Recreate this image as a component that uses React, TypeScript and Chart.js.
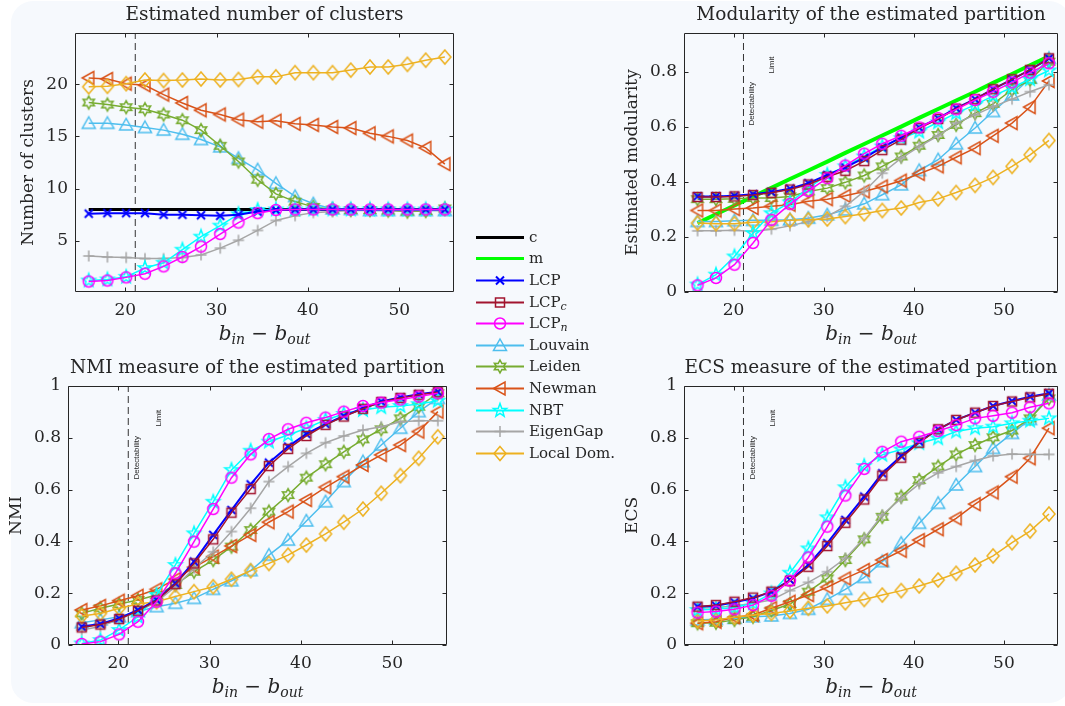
import React, { useEffect, useRef } from "react";
import { Chart, registerables } from "chart.js";
Chart.register(...registerables);

// ---------------- DATA ----------------
const binMinusBout = [16, 18.05, 20.1, 22.16, 24.2, 26.26, 28.3, 30.4, 32.4, 34.5, 36.5, 38.6, 40.6, 42.7, 44.7, 46.8, 48.8, 50.9, 52.9, 55];
const xTickValues = [20, 30, 40, 50];
const detectabilityLimit = 21.1;

// Panel 1: estimated number of clusters
const clustersTicks = [5, 10, 15, 20];
const clustersC = [8, 8, 8, 8, 8, 8, 8, 8, 8, 8, 8, 8, 8, 8, 8, 8, 8, 8, 8, 8];
const clustersLCP = [7.6, 7.65, 7.65, 7.65, 7.5, 7.5, 7.45, 7.4, 7.5, 7.8, 7.95, 8, 8, 8, 8, 8, 8, 8, 8, 8];
const clustersLCPn = [1.1, 1.2, 1.5, 1.85, 2.55, 3.45, 4.45, 5.65, 6.75, 7.65, 7.95, 8, 8, 8, 8, 8, 8, 8, 8, 8];
const clustersLouvain = [16.25, 16.25, 16.1, 15.85, 15.6, 15.2, 14.7, 14.0, 12.9, 11.8, 10.5, 9.25, 8.55, 8.05, 8.0, 7.9, 7.9, 7.9, 7.9, 7.9];
const clustersLeiden = [18.25, 18.05, 17.8, 17.6, 17.1, 16.55, 15.6, 14.1, 12.6, 10.85, 9.5, 8.75, 8.25, 8.0, 7.95, 7.95, 7.9, 7.8, 7.85, 8.1];
const clustersNewman = [20.6, 20.5, 20.05, 19.9, 19.0, 18.2, 17.5, 17.1, 16.6, 16.4, 16.5, 16.2, 16.1, 15.9, 15.8, 15.3, 15.0, 14.6, 13.9, 12.35];
const clustersNBT = [1.2, 1.3, 1.55, 2.4, 2.9, 4.15, 5.4, 6.45, 7.55, 7.95, 8, 8, 8, 8, 8, 8, 8, 8, 8, 8];
const clustersEigenGap = [3.55, 3.45, 3.4, 3.3, 3.3, 3.4, 3.65, 4.3, 5.05, 6.0, 6.95, 7.4, 7.7, 7.8, 7.9, 7.9, 7.9, 7.9, 7.9, 7.9];
const clustersLocalDom = [19.75, 19.8, 20.05, 20.4, 20.35, 20.4, 20.5, 20.4, 20.45, 20.7, 20.7, 21.1, 21.1, 21.1, 21.35, 21.65, 21.65, 21.9, 22.3, 22.6];

// Panel 2: modularity
const modTicks = [0, 0.2, 0.4, 0.6, 0.8];
const modM = [0.25, 0.282, 0.314, 0.346, 0.378, 0.41, 0.441, 0.473, 0.505, 0.537, 0.568, 0.6, 0.632, 0.664, 0.695, 0.727, 0.759, 0.791, 0.823, 0.855];
const modLCP = [0.347, 0.347, 0.349, 0.355, 0.363, 0.375, 0.395, 0.425, 0.452, 0.487, 0.525, 0.561, 0.597, 0.63, 0.667, 0.7, 0.736, 0.772, 0.806, 0.848];
const modLCPc = [0.345, 0.345, 0.347, 0.352, 0.36, 0.372, 0.39, 0.418, 0.44, 0.475, 0.515, 0.553, 0.595, 0.628, 0.665, 0.7, 0.736, 0.772, 0.806, 0.848];
const modLCPn = [0.024, 0.051, 0.099, 0.178, 0.262, 0.319, 0.367, 0.413, 0.459, 0.502, 0.538, 0.567, 0.597, 0.631, 0.663, 0.697, 0.727, 0.761, 0.796, 0.83];
const modLouvain = [0.256, 0.256, 0.259, 0.26, 0.26, 0.262, 0.268, 0.28, 0.298, 0.32, 0.353, 0.389, 0.441, 0.48, 0.538, 0.595, 0.655, 0.715, 0.776, 0.848];
const modLeiden = [0.337, 0.337, 0.338, 0.341, 0.341, 0.347, 0.365, 0.377, 0.398, 0.423, 0.456, 0.492, 0.531, 0.57, 0.607, 0.649, 0.683, 0.734, 0.77, 0.836];
const modNewman = [0.296, 0.296, 0.301, 0.305, 0.311, 0.317, 0.329, 0.337, 0.349, 0.365, 0.383, 0.404, 0.429, 0.456, 0.489, 0.522, 0.567, 0.613, 0.671, 0.766];
const modNBT = [0.027, 0.063, 0.129, 0.214, 0.286, 0.325, 0.377, 0.425, 0.456, 0.492, 0.528, 0.558, 0.582, 0.616, 0.649, 0.679, 0.712, 0.742, 0.772, 0.804];
const modEigenGap = [0.222, 0.222, 0.224, 0.22, 0.228, 0.24, 0.256, 0.274, 0.311, 0.365, 0.431, 0.486, 0.528, 0.567, 0.613, 0.643, 0.673, 0.7, 0.727, 0.752];
const modLocalDom = [0.25, 0.248, 0.248, 0.253, 0.255, 0.26, 0.262, 0.265, 0.274, 0.284, 0.296, 0.305, 0.325, 0.338, 0.361, 0.387, 0.416, 0.456, 0.498, 0.55];

// Panel 3: NMI
const unitTicks = [0, 0.2, 0.4, 0.6, 0.8, 1];
const nmiLCP = [0.071, 0.081, 0.103, 0.135, 0.174, 0.238, 0.322, 0.425, 0.521, 0.62, 0.704, 0.766, 0.815, 0.853, 0.884, 0.914, 0.94, 0.956, 0.968, 0.978];
const nmiLCPc = [0.068, 0.079, 0.1, 0.132, 0.172, 0.235, 0.315, 0.408, 0.511, 0.602, 0.691, 0.757, 0.807, 0.85, 0.882, 0.912, 0.938, 0.954, 0.966, 0.976];
const nmiLCPn = [0.004, 0.013, 0.041, 0.09, 0.167, 0.277, 0.399, 0.525, 0.646, 0.736, 0.795, 0.833, 0.858, 0.878, 0.901, 0.923, 0.936, 0.948, 0.959, 0.972];
const nmiLouvain = [0.086, 0.097, 0.109, 0.129, 0.148, 0.161, 0.18, 0.215, 0.248, 0.287, 0.347, 0.405, 0.479, 0.553, 0.631, 0.708, 0.772, 0.837, 0.901, 0.952];
const nmiLeiden = [0.122, 0.142, 0.158, 0.174, 0.193, 0.232, 0.283, 0.328, 0.38, 0.444, 0.515, 0.579, 0.646, 0.698, 0.746, 0.794, 0.833, 0.875, 0.92, 0.972];
const nmiNewman = [0.135, 0.151, 0.171, 0.19, 0.215, 0.254, 0.3, 0.341, 0.382, 0.425, 0.474, 0.515, 0.56, 0.609, 0.65, 0.695, 0.734, 0.772, 0.824, 0.901];
const nmiNBT = [0.006, 0.019, 0.058, 0.109, 0.193, 0.309, 0.431, 0.553, 0.676, 0.75, 0.785, 0.811, 0.837, 0.869, 0.892, 0.907, 0.918, 0.923, 0.93, 0.943];
const nmiEigenGap = [0.058, 0.071, 0.099, 0.129, 0.167, 0.225, 0.296, 0.36, 0.438, 0.528, 0.631, 0.689, 0.74, 0.781, 0.807, 0.83, 0.843, 0.862, 0.866, 0.866];
const nmiLocalDom = [0.112, 0.122, 0.142, 0.158, 0.167, 0.187, 0.206, 0.225, 0.254, 0.287, 0.315, 0.347, 0.386, 0.429, 0.474, 0.525, 0.586, 0.654, 0.721, 0.804];

// Panel 4: ECS
const ecsLCP = [0.148, 0.152, 0.165, 0.18, 0.206, 0.251, 0.309, 0.393, 0.483, 0.573, 0.663, 0.73, 0.785, 0.833, 0.869, 0.897, 0.923, 0.942, 0.959, 0.972];
const ecsLCPc = [0.148, 0.154, 0.167, 0.183, 0.206, 0.248, 0.302, 0.382, 0.472, 0.562, 0.654, 0.723, 0.781, 0.833, 0.869, 0.897, 0.923, 0.94, 0.956, 0.97];
const ecsLCPn = [0.125, 0.129, 0.138, 0.154, 0.19, 0.248, 0.338, 0.457, 0.577, 0.68, 0.746, 0.785, 0.804, 0.826, 0.849, 0.875, 0.885, 0.897, 0.918, 0.933];
const ecsLouvain = [0.097, 0.099, 0.103, 0.109, 0.112, 0.122, 0.138, 0.176, 0.215, 0.261, 0.322, 0.393, 0.47, 0.547, 0.618, 0.689, 0.759, 0.817, 0.871, 0.965];
const ecsLeiden = [0.084, 0.086, 0.097, 0.109, 0.133, 0.158, 0.206, 0.257, 0.328, 0.408, 0.495, 0.573, 0.637, 0.689, 0.736, 0.772, 0.802, 0.828, 0.875, 0.952];
const ecsNewman = [0.084, 0.09, 0.107, 0.116, 0.142, 0.167, 0.193, 0.223, 0.257, 0.29, 0.328, 0.364, 0.405, 0.447, 0.489, 0.544, 0.589, 0.65, 0.721, 0.837];
const ecsNBT = [0.135, 0.138, 0.145, 0.161, 0.199, 0.279, 0.373, 0.493, 0.609, 0.691, 0.734, 0.755, 0.779, 0.798, 0.824, 0.837, 0.843, 0.856, 0.866, 0.875];
const ecsEigenGap = [0.142, 0.145, 0.151, 0.161, 0.174, 0.21, 0.242, 0.283, 0.335, 0.412, 0.502, 0.566, 0.622, 0.665, 0.689, 0.712, 0.73, 0.737, 0.736, 0.736];
const ecsLocalDom = [0.093, 0.097, 0.107, 0.116, 0.122, 0.131, 0.142, 0.151, 0.163, 0.176, 0.193, 0.21, 0.228, 0.251, 0.277, 0.309, 0.344, 0.395, 0.44, 0.506];

// ---------------- STYLES ----------------
const FONT = '"DejaVu Serif", serif';
const TEXT_COLOR = "#262626";
const AXIS_COLOR = "#262626";

type MarkerKind = "x" | "plus" | "square" | "circle" | "triUp" | "triLeft" | "diamond" | "pentagram" | "hexagram" | null;
const seriesStyle: Record<string, { color: string; width: number; marker: MarkerKind; markerWidth: number }> = {
  c: { color: "#000000", width: 3, marker: null, markerWidth: 1.5 },
  m: { color: "#00ff00", width: 4, marker: null, markerWidth: 1.5 },
  LCP: { color: "#0000ff", width: 2, marker: "x", markerWidth: 2 },
  LCPc: { color: "#a2142f", width: 1.5, marker: "square", markerWidth: 1.5 },
  LCPn: { color: "#ff00ff", width: 1.5, marker: "circle", markerWidth: 1.5 },
  Louvain: { color: "#4dbeee", width: 1.5, marker: "triUp", markerWidth: 1.5 },
  Leiden: { color: "#77ac30", width: 1.5, marker: "hexagram", markerWidth: 1.5 },
  Newman: { color: "#d95319", width: 1.5, marker: "triLeft", markerWidth: 1.5 },
  NBT: { color: "#00ffff", width: 1.5, marker: "pentagram", markerWidth: 1.5 },
  EigenGap: { color: "#a6a6a6", width: 1.5, marker: "plus", markerWidth: 1.5 },
  LocalDom: { color: "#edb120", width: 1.5, marker: "diamond", markerWidth: 1.5 },
};
const legendOrder = ["c", "m", "LCP", "LCPc", "LCPn", "Louvain", "Leiden", "Newman", "NBT", "EigenGap", "LocalDom"];
// bottom -> top
const drawOrder = ["c", "m", "Louvain", "Leiden", "Newman", "EigenGap", "LocalDom", "NBT", "LCP", "LCPc", "LCPn"];

function traceMarker(ctx: CanvasRenderingContext2D, kind: MarkerKind, cx: number, cy: number) {
  ctx.beginPath();
  const star = (n: number, ro: number, ri: number) => {
    for (let k = 0; k < 2 * n; k++) {
      const a = -Math.PI / 2 + (k * Math.PI) / n;
      const r = k % 2 === 0 ? ro : ri;
      const px = cx + r * Math.cos(a);
      const py = cy + r * Math.sin(a);
      if (k === 0) ctx.moveTo(px, py);
      else ctx.lineTo(px, py);
    }
    ctx.closePath();
  };
  switch (kind) {
    case "x": {
      const r = 4;
      ctx.moveTo(cx - r, cy - r); ctx.lineTo(cx + r, cy + r);
      ctx.moveTo(cx + r, cy - r); ctx.lineTo(cx - r, cy + r);
      break;
    }
    case "plus": {
      const r = 5.5;
      ctx.moveTo(cx - r, cy); ctx.lineTo(cx + r, cy);
      ctx.moveTo(cx, cy - r); ctx.lineTo(cx, cy + r);
      break;
    }
    case "square": {
      const r = 4.5;
      ctx.rect(cx - r, cy - r, 2 * r, 2 * r);
      break;
    }
    case "circle":
      ctx.arc(cx, cy, 5.5, 0, Math.PI * 2);
      break;
    case "triUp":
      ctx.moveTo(cx, cy - 6.5); ctx.lineTo(cx + 6.5, cy + 5); ctx.lineTo(cx - 6.5, cy + 5); ctx.closePath();
      break;
    case "triLeft":
      ctx.moveTo(cx - 6.5, cy); ctx.lineTo(cx + 5, cy - 6.5); ctx.lineTo(cx + 5, cy + 6.5); ctx.closePath();
      break;
    case "diamond":
      ctx.moveTo(cx, cy - 7); ctx.lineTo(cx + 6, cy); ctx.lineTo(cx, cy + 7); ctx.lineTo(cx - 6, cy); ctx.closePath();
      break;
    case "pentagram":
      star(5, 7, 2.9);
      break;
    case "hexagram":
      star(6, 6.5, 3.6);
      break;
    default:
      break;
  }
}

function drawMarker(ctx: CanvasRenderingContext2D, key: string, cx: number, cy: number) {
  const st = seriesStyle[key];
  if (!st.marker) return;
  ctx.save();
  ctx.strokeStyle = st.color;
  ctx.lineWidth = st.markerWidth;
  ctx.lineJoin = "miter";
  traceMarker(ctx, st.marker, cx, cy);
  ctx.stroke();
  ctx.restore();
}

const markerCache: Record<string, HTMLCanvasElement> = {};
function markerImage(key: string): HTMLCanvasElement {
  if (markerCache[key]) return markerCache[key];
  const c = document.createElement("canvas");
  c.width = 20;
  c.height = 20;
  const ctx = c.getContext("2d")!;
  drawMarker(ctx, key, 10, 10);
  markerCache[key] = c;
  return c;
}

// ---------------- PANELS ----------------
type Panel = {
  left: number; top: number; width: number; height: number;
  plotLeft: number; padRight: number;
  title: string; yLabel: string; yLabelOffset: number;
  yMin: number; yMax: number; yTicks: number[];
  series: Record<string, number[]>;
  notes: { text: string; x: number; y: number }[];
};

const panels: Panel[] = [
  {
    left: 0, top: 0, width: 470, height: 353, plotLeft: 75, padRight: 16,
    title: "Estimated number of clusters", yLabel: "Number of clusters", yLabelOffset: 46,
    yMin: 0.1, yMax: 24.9, yTicks: clustersTicks,
    series: { c: clustersC, LCP: clustersLCP, LCPn: clustersLCPn, Louvain: clustersLouvain, Leiden: clustersLeiden, Newman: clustersNewman, NBT: clustersNBT, EigenGap: clustersEigenGap, LocalDom: clustersLocalDom },
    notes: [],
  },
  {
    left: 590, top: 0, width: 475, height: 353, plotLeft: 94, padRight: 2,
    title: "Modularity of the estimated partition", yLabel: "Estimated modularity", yLabelOffset: 51,
    yMin: 0, yMax: 0.94, yTicks: modTicks,
    series: { m: modM, LCP: modLCP, LCPc: modLCPc, LCPn: modLCPn, Louvain: modLouvain, Leiden: modLeiden, Newman: modNewman, NBT: modNBT, EigenGap: modEigenGap, LocalDom: modLocalDom },
    notes: [{ text: "Detectability", x: 22.05, y: 0.683 }, { text: "Limit", x: 24.27, y: 0.824 }],
  },
  {
    left: 0, top: 353, width: 470, height: 353, plotLeft: 68, padRight: 23,
    title: "NMI measure of the estimated partition", yLabel: "NMI", yLabelOffset: 51,
    yMin: 0, yMax: 1, yTicks: unitTicks,
    series: { LCP: nmiLCP, LCPc: nmiLCPc, LCPn: nmiLCPn, Louvain: nmiLouvain, Leiden: nmiLeiden, Newman: nmiNewman, NBT: nmiNBT, EigenGap: nmiEigenGap, LocalDom: nmiLocalDom },
    notes: [{ text: "Detectability", x: 22.07, y: 0.723 }, { text: "Limit", x: 24.4, y: 0.876 }],
  },
  {
    left: 590, top: 353, width: 475, height: 353, plotLeft: 94, padRight: 2,
    title: "ECS measure of the estimated partition", yLabel: "ECS", yLabelOffset: 51,
    yMin: 0, yMax: 1, yTicks: unitTicks,
    series: { LCP: ecsLCP, LCPc: ecsLCPc, LCPn: ecsLCPn, Louvain: ecsLouvain, Leiden: ecsLeiden, Newman: ecsNewman, NBT: ecsNBT, EigenGap: ecsEigenGap, LocalDom: ecsLocalDom },
    notes: [{ text: "Detectability", x: 22.1, y: 0.723 }, { text: "Limit", x: 24.4, y: 0.876 }],
  },
];

function drawXLabel(ctx: CanvasRenderingContext2D, cx: number, baseline: number) {
  const pieces = [
    { t: "b", f: `italic 20px ${FONT}`, dy: 0 },
    { t: "in", f: `italic 14px ${FONT}`, dy: 4 },
    { t: " \u2212 ", f: `20px ${FONT}`, dy: 0 },
    { t: "b", f: `italic 20px ${FONT}`, dy: 0 },
    { t: "out", f: `italic 14px ${FONT}`, dy: 4 },
  ];
  let total = 0;
  const widths = pieces.map((p) => {
    ctx.font = p.f;
    const w = ctx.measureText(p.t).width;
    total += w;
    return w;
  });
  let x = cx - total / 2;
  ctx.textAlign = "left";
  ctx.textBaseline = "alphabetic";
  pieces.forEach((p, i) => {
    ctx.font = p.f;
    ctx.fillText(p.t, x, baseline + p.dy);
    x += widths[i];
  });
}

const decorPlugin = {
  id: "decor",
  afterDraw(chart: any, _args: any, opts: any) {
    const { ctx, chartArea: a, scales } = chart;
    const xs = scales.x;
    const ys = scales.y;
    ctx.save();
    ctx.strokeStyle = AXIS_COLOR;
    ctx.lineWidth = 1;
    const L = Math.round(a.left) + 0.5, R = Math.round(a.right) - 0.5, T = Math.round(a.top) + 0.5, B = Math.round(a.bottom) - 0.5;
    ctx.beginPath();
    ctx.rect(L, T, R - L, B - T);
    const tl = 4;
    for (const v of xTickValues) {
      const px = Math.round(xs.getPixelForValue(v)) + 0.5;
      ctx.moveTo(px, B); ctx.lineTo(px, B - tl);
      ctx.moveTo(px, T); ctx.lineTo(px, T + tl);
    }
    for (const v of opts.yTicks as number[]) {
      const py = Math.round(ys.getPixelForValue(v)) + 0.5;
      ctx.moveTo(L, py); ctx.lineTo(L + tl, py);
      ctx.moveTo(R, py); ctx.lineTo(R - tl, py);
    }
    ctx.stroke();

    ctx.fillStyle = TEXT_COLOR;
    // x label
    drawXLabel(ctx, (a.left + a.right) / 2, a.bottom + 48);
    // y label
    ctx.save();
    ctx.font = `17px ${FONT}`;
    ctx.textAlign = "center";
    ctx.textBaseline = "middle";
    ctx.translate(a.left - opts.yLabelOffset, (a.top + a.bottom) / 2);
    ctx.rotate(-Math.PI / 2);
    ctx.fillText(opts.yLabel, 0, 0);
    ctx.restore();
    // notes
    for (const n of opts.notes as { text: string; x: number; y: number }[]) {
      ctx.save();
      ctx.font = `8px "Liberation Sans", Arial, sans-serif`;
      ctx.textAlign = "center";
      ctx.textBaseline = "middle";
      ctx.translate(xs.getPixelForValue(n.x), ys.getPixelForValue(n.y));
      ctx.rotate(-Math.PI / 2);
      ctx.fillText(n.text, 0, 0);
      ctx.restore();
    }
    ctx.restore();
  },
};

function PanelChart({ panel }: { panel: Panel }) {
  const ref = useRef<HTMLCanvasElement>(null);
  useEffect(() => {
    const canvas = ref.current!;
    const datasets: any[] = [];
    datasets.push({
      label: "detectability",
      data: [
        { x: detectabilityLimit, y: panel.yMin },
        { x: detectabilityLimit, y: panel.yMax },
      ],
      borderColor: "#333333",
      borderWidth: 1,
      borderDash: [7, 4],
      pointRadius: 0,
      order: 100,
    });
    drawOrder.forEach((key, idx) => {
      const ys = panel.series[key];
      if (!ys) return;
      const st = seriesStyle[key];
      datasets.push({
        label: key,
        data: binMinusBout.map((x, i) => ({ x, y: ys[i] })),
        borderColor: st.color,
        borderWidth: st.width,
        pointStyle: st.marker ? markerImage(key) : false,
        pointRadius: st.marker ? 5 : 0,
        pointHoverRadius: st.marker ? 5 : 0,
        pointBackgroundColor: "transparent",
        pointBorderColor: st.color,
        tension: 0,
        fill: false,
        order: 50 - idx,
      });
    });
    const chart = new Chart(canvas, {
      type: "line",
      data: { datasets },
      options: {
        animation: false,
        responsive: false,
        devicePixelRatio: 1,
        events: [],
        layout: { padding: { left: 0, right: panel.padRight, top: 0, bottom: 0 } },
        plugins: {
          legend: { display: false },
          tooltip: { enabled: false },
          title: {
            display: true,
            text: panel.title,
            color: TEXT_COLOR,
            font: { family: FONT, size: 18.5, weight: "normal" },
            padding: { top: 4.5, bottom: 6.3 },
            fullSize: false,
          },
          decor: { yTicks: panel.yTicks, yLabel: panel.yLabel, yLabelOffset: panel.yLabelOffset, notes: panel.notes },
        } as any,
        scales: {
          x: {
            type: "linear",
            min: 14.5,
            max: 56,
            grid: { display: false, drawTicks: false },
            border: { display: false },
            ticks: { color: TEXT_COLOR, font: { family: FONT, size: 17 }, padding: 8, callback: (v: any) => String(v) },
            afterBuildTicks: (s: any) => { s.ticks = xTickValues.map((v) => ({ value: v })); },
            afterFit: (s: any) => { s.height = 61; },
          },
          y: {
            type: "linear",
            min: panel.yMin,
            max: panel.yMax,
            grid: { display: false, drawTicks: false },
            border: { display: false },
            ticks: { color: TEXT_COLOR, font: { family: FONT, size: 17 }, padding: 7, callback: (v: any) => String(v) },
            afterBuildTicks: (s: any) => { s.ticks = panel.yTicks.map((v) => ({ value: v })); },
            afterFit: (s: any) => { s.width = panel.plotLeft; },
          },
        },
      },
      plugins: [decorPlugin],
    });
    return () => chart.destroy();
  }, [panel]);
  return (
    <canvas
      ref={ref}
      width={panel.width}
      height={panel.height}
      style={{ position: "absolute", left: panel.left, top: panel.top, width: panel.width, height: panel.height }}
    />
  );
}

const legendLabels: Record<string, React.ReactNode> = {
  c: "c",
  m: "m",
  LCP: "LCP",
  LCPc: (
    <>
      LCP<sub style={{ fontStyle: "italic", fontSize: 11, verticalAlign: "-3px" }}>c</sub>
    </>
  ),
  LCPn: (
    <>
      LCP<sub style={{ fontStyle: "italic", fontSize: 11, verticalAlign: "-3px" }}>n</sub>
    </>
  ),
  Louvain: "Louvain",
  Leiden: "Leiden",
  Newman: "Newman",
  NBT: "NBT",
  EigenGap: "EigenGap",
  LocalDom: "Local Dom.",
};

const LEG_LEFT = 474;
const LEG_TOP = 226;
const LEG_ROW0 = 10.7;
const LEG_STEP = 21.6;

function Legend() {
  const ref = useRef<HTMLCanvasElement>(null);
  useEffect(() => {
    const ctx = ref.current!.getContext("2d")!;
    ctx.clearRect(0, 0, 56, 240);
    legendOrder.forEach((key, i) => {
      const y = Math.round(LEG_ROW0 + i * LEG_STEP) + 0.5;
      const st = seriesStyle[key];
      ctx.save();
      ctx.strokeStyle = st.color;
      ctx.lineWidth = st.marker ? 2 : 3;
      ctx.beginPath();
      ctx.moveTo(2, y);
      ctx.lineTo(50, y);
      ctx.stroke();
      ctx.restore();
      drawMarker(ctx, key, 26, y);
    });
  }, []);
  return (
    <div style={{ position: "absolute", left: LEG_LEFT, top: LEG_TOP, width: 150, height: 240 }}>
      <canvas ref={ref} width={56} height={240} style={{ position: "absolute", left: 0, top: 0 }} />
      {legendOrder.map((key, i) => (
        <div
          key={key}
          style={{
            position: "absolute",
            left: 55,
            top: LEG_ROW0 + i * LEG_STEP - 11,
            height: 22,
            lineHeight: "22px",
            fontFamily: FONT,
            fontSize: 15,
            color: TEXT_COLOR,
            whiteSpace: "nowrap",
          }}
        >
          {legendLabels[key]}
        </div>
      ))}
    </div>
  );
}

export default function App() {
  return (
    <div style={{ position: "absolute", left: 0, top: 0, width: 1065, height: 706, background: "#ffffff", overflow: "hidden" }}>
      <div
        style={{
          position: "absolute",
          left: 11,
          top: 1,
          width: 1060,
          height: 702,
          background: "#f6f9fd",
          borderRadius: 22,
        }}
      />
      {panels.map((p, i) => (
        <PanelChart key={i} panel={p} />
      ))}
      <Legend />
    </div>
  );
}
